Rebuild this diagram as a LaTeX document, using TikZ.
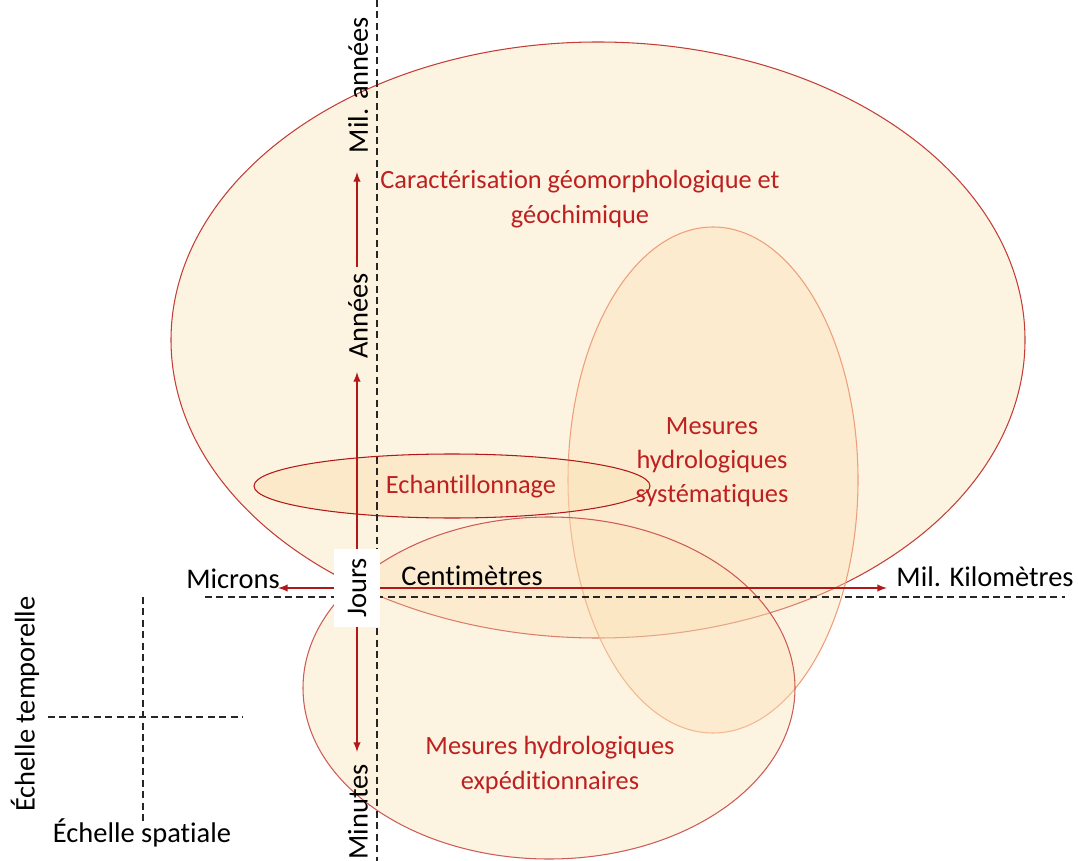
\documentclass[tikz,border=0pt]{standalone}
\usepackage{fontspec}
\setmainfont{Carlito}[Ligatures=NoCommon]
\usetikzlibrary{shapes,arrows}
\definecolor{axisred}{RGB}{178,24,24}
\definecolor{labelred}{RGB}{190,32,32}
\definecolor{zonefill}{RGB}{250,224,180}
\definecolor{zoneline}{RGB}{196,62,56}
\definecolor{paleline}{RGB}{238,158,120}

\begin{document}
\begin{tikzpicture}
[
x=0.02cm, y=-0.02cm,
zone/.style={draw=zoneline, fill=zonefill, fill opacity=0.4, line width=0.6pt},
axis/.style={draw=axisred, line width=0.9pt, -latex},
guide/.style={draw=black!85, dash pattern=on 4pt off 2.5pt, line width=0.6pt},
zonetext/.style={text=labelred, font=\fontsize{15}{19.5}\selectfont, align=center},
scaletext/.style={text=black, font=\fontsize{16.2}{19}\selectfont}
]
\tikzset{scalebox/.style={scaletext, rotate=90, fill=white, minimum width=44pt, minimum height=26pt, inner sep=0pt}}
\useasboundingbox (0,0) rectangle (1078,861);

\path[zone] (598,340) ellipse [x radius=427, y radius=298];
\path[zone, draw=paleline] (713,480) ellipse [x radius=145, y radius=253];
\path[zone, draw=zoneline!85] (549,688) ellipse [x radius=246, y radius=171];
\path[zone, fill opacity=0.5, draw=axisred] (452,486) ellipse [x radius=198, y radius=32];

\draw[guide] (377,0) -- (377,861);
\draw[guide] (205,597) -- (1065,597);
\draw[guide] (143,597) -- (143,823);
\draw[guide] (48,717) -- (243,717);

\node[scalebox] (jours) at (357,588) {Jours};
\node[scaletext] (microns) at (233,579) {Microns};
\node[scaletext] (centimetres) at (472,576) {Centimètres};
\node[scaletext] (milkm) at (985,577) {Mil. Kilomètres};
\node[scaletext, rotate=90] (milannees) at (358,85) {Mil. années};
\node[scaletext, rotate=90] (annees) at (358,316) {Années};
\node[scaletext, rotate=90] (minutes) at (358,812) {Minutes};
\node[scaletext, rotate=90] (temporelle) at (25,704) {Échelle temporelle};
\node[scaletext] (spatiale) at (142,833) {Échelle spatiale};

\coordinate (micronsTip) at (278,588);
\coordinate (kmTip) at (887,588);
\coordinate (anneesTip) at (357,372);
\coordinate (milTip) at (357,172);
\coordinate (minutesTip) at (357,752);

\draw[axis] (jours.north) -- (micronsTip);
\draw[axis] (jours.south) -- (kmTip);
\draw[axis] (jours.east) -- (anneesTip);
\draw[axis] (annees.east -| milTip) -- (milTip);
\draw[axis] (jours.west) -- (minutesTip);

\node[zonetext] (geomorpho) at (580,199) {Caractérisation géomorphologique et\\géochimique};
\node[zonetext] (systematique) at (712,462) {Mesures\\hydrologiques\\systématiques};
\node[zonetext] (echantillon) at (471,487) {Echantillonnage};
\node[zonetext] (expedition) at (550,765) {Mesures hydrologiques\\expéditionnaires};
\end{tikzpicture}
\end{document}
